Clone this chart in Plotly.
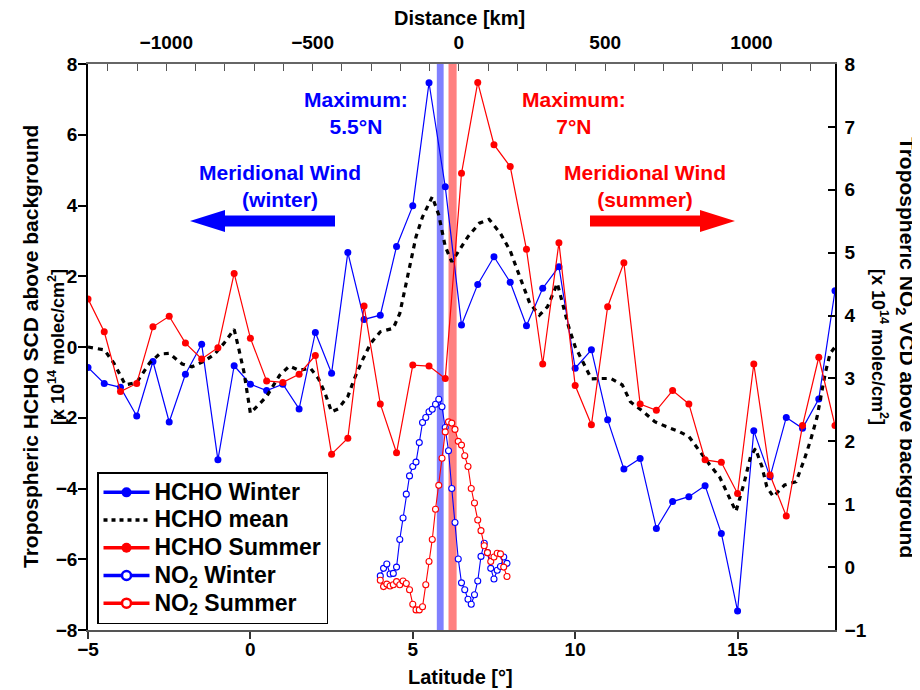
import plotly.graph_objects as go

# ---------------- data ----------------
hcho_lat = [round(-5 + 0.5 * i, 2) for i in range(47)]
hcho_winter = [-0.58, -1.03, -1.14, -1.95, -0.41, -2.12, -0.77, 0.08, -3.19, -0.53,
               -1.05, -1.23, -1.05, -1.75, 0.41, -0.74, 2.67, 0.78, 0.90, 2.84,
               3.99, 7.47, 4.53, 0.62, 1.77, 2.55, 1.83, 0.60, 1.66, 2.27,
               -0.60, -0.08, -2.06, -3.45, -3.15, -5.13, -4.37, -4.23, -3.92, -5.27,
               -7.46, -2.37, -3.67, -1.99, -2.30, -1.47, 1.59]
hcho_summer = [1.36, 0.43, -1.26, -1.03, 0.57, 0.87, 0.11, -0.34, -0.02, 2.08,
               0.25, -0.96, -1.00, -0.77, -0.24, -3.03, -2.58, 1.16, -1.61, -2.99,
               -0.51, -0.54, -0.89, 4.91, 7.48, 5.72, 5.10, 2.76, -0.48, 2.95,
               -1.09, -2.20, 1.14, 2.38, -1.61, -1.79, -1.23, -1.61, -3.19, -3.26,
               -4.14, -0.48, -3.62, -4.78, -2.22, -0.29, -2.22]

mean_lat = [-5.0, -4.5, -4.2, -3.85, -3.5, -3.1, -2.8, -2.5, -2.1, -1.8, -1.4, -1.1,
            -0.8, -0.5, -0.35, -0.2, 0.0, 0.25, 0.5, 0.9, 1.2, 1.5, 1.85, 2.1, 2.3,
            2.5, 2.7, 3.0, 3.2, 3.45, 3.7, 4.0, 4.4, 4.6, 4.75, 4.95, 5.1, 5.3, 5.6,
            5.8, 6.0, 6.2, 6.4, 6.7, 7.05, 7.35, 7.7, 8.0, 8.2, 8.4, 8.6, 8.9, 9.15,
            9.45, 9.6, 9.8, 10.0, 10.25, 10.5, 10.75, 11.1, 11.45, 11.7, 12.1, 12.45,
            12.8, 13.15, 13.5, 13.8, 14.15, 14.45, 14.7, 14.95, 15.2, 15.4, 15.55,
            15.75, 15.9, 16.1, 16.45, 16.8, 17.05, 17.25, 17.45, 17.7, 17.85, 18.0]
hcho_mean = [0.0, -0.08, -0.46, -1.07, -1.0, -0.45, -0.2, -0.18, -0.48, -0.56, -0.39, -0.2,
             0.12, 0.5, -0.08, -0.7, -1.87, -1.64, -1.4, -0.8, -0.54, -0.66, -0.6, -0.9, -1.31,
             -1.83, -1.75, -1.4, -0.9, -0.37, 0.1, 0.43, 0.53, 0.95, 1.61, 2.46, 3.12, 3.68, 4.25,
             3.73, 2.84, 2.41, 2.7, 3.12, 3.5, 3.61, 3.21, 2.72, 2.22, 1.7, 1.24, 0.9, 1.14,
             1.8, 1.3, 0.57, 0.01, -0.46, -0.9, -0.89, -0.89, -1.07, -1.55, -1.83, -2.11,
             -2.25, -2.37, -2.53, -2.91, -3.34, -3.68, -4.14, -4.65, -3.85, -3.1, -2.87,
             -3.38, -3.95, -4.23, -3.9, -3.81, -3.19, -2.63, -1.97, -0.74, -0.18, 0.0]

no2_lat = [round(4.0 + 0.1 * i, 2) for i in range(40)]
no2_winter = [-0.14, -0.02, 0.05, -0.11, -0.10, 0.00, 0.44, 0.78, 1.16, 1.45,
              1.60, 1.67, 1.98, 2.30, 2.38, 2.47, 2.51, 2.59, 2.67, 2.55,
              2.22, 1.85, 1.25, 0.71, 0.13, -0.25, -0.36, -0.51, -0.59, -0.44,
              -0.22, 0.17, 0.38, 0.23, -0.02, -0.19, -0.05, 0.01, 0.16, 0.06]
no2_summer = [-0.21, -0.31, -0.27, -0.30, -0.28, -0.23, -0.28, -0.22, -0.26, -0.36,
              -0.59, -0.68, -0.68, -0.63, -0.28, 0.09, 0.44, 0.92, 1.30, 1.73,
              2.15, 2.31, 2.29, 2.19, 2.00, 1.94, 1.77, 1.60, 1.25, 1.02,
              0.75, 0.58, 0.34, 0.23, 0.09, 0.16, 0.22, 0.21, 0.00, -0.15]

lat_range = [-5, 18]
km_per_deg = 111.0
lat_zero_km = 6.42
band_winter = [5.74, 5.95]
band_summer = [6.10, 6.35]

BLUE = "#0000ff"
RED = "#ff0000"
FONT = "Liberation Sans, Arial, sans-serif"

# page geometry: the page body has an 8px margin, so the figure starts at (8, 8)
OFF = 8
W, H = 920 - OFF, 690 - OFF
L, R, T, B = 88, 835, 64, 630          # plot area in page pixels
def X(p):
    return (p - L) / (R - L)
def Y(p):
    return (B - p) / (B - T)

fig = go.Figure()

# data traces
fig.add_trace(go.Scatter(x=hcho_lat, y=hcho_winter, mode="lines+markers", showlegend=False,
                         line=dict(color=BLUE, width=1.2), marker=dict(color=BLUE, size=7)))
fig.add_trace(go.Scatter(x=mean_lat, y=hcho_mean, mode="lines", showlegend=False,
                         line=dict(color="black", width=3.2, dash="5px,5px")))
fig.add_trace(go.Scatter(x=hcho_lat, y=hcho_summer, mode="lines+markers", showlegend=False,
                         line=dict(color=RED, width=1.2), marker=dict(color=RED, size=7)))
fig.add_trace(go.Scatter(x=no2_lat, y=no2_winter, mode="lines+markers", showlegend=False, yaxis="y2",
                         line=dict(color=BLUE, width=1.1),
                         marker=dict(color="white", size=6, line=dict(color=BLUE, width=1.1))))
fig.add_trace(go.Scatter(x=no2_lat, y=no2_summer, mode="lines+markers", showlegend=False, yaxis="y2",
                         line=dict(color=RED, width=1.1),
                         marker=dict(color="white", size=6, line=dict(color=RED, width=1.1))))

# top axis carrier (invisible)
km_range = [(v - lat_zero_km) * km_per_deg for v in lat_range]
fig.add_trace(go.Scatter(x=km_range, y=[None, None], xaxis="x2", mode="markers",
                         showlegend=False, hoverinfo="skip", marker=dict(opacity=0)))

# legend entries
def lg(s):
    return f'<span style="font-size:23px">{s}</span>'
fig.add_trace(go.Scatter(x=[None], y=[None], mode="lines+markers", name=lg("HCHO Winter"),
                         line=dict(color=BLUE, width=3.5), marker=dict(color=BLUE, size=10)))
fig.add_trace(go.Scatter(x=[None], y=[None], mode="lines", name=lg("HCHO mean"),
                         line=dict(color="black", width=3.5, dash="4px,4px")))
fig.add_trace(go.Scatter(x=[None], y=[None], mode="lines+markers", name=lg("HCHO Summer"),
                         line=dict(color=RED, width=3.5), marker=dict(color=RED, size=10)))
fig.add_trace(go.Scatter(x=[None], y=[None], mode="lines+markers", name=lg("NO<sub>2</sub> Winter"),
                         line=dict(color=BLUE, width=3.5),
                         marker=dict(color="white", size=9, line=dict(color=BLUE, width=2.5))))
fig.add_trace(go.Scatter(x=[None], y=[None], mode="lines+markers", name=lg("NO<sub>2</sub> Summer"),
                         line=dict(color=RED, width=3.5),
                         marker=dict(color="white", size=9, line=dict(color=RED, width=2.5))))

# vertical bands
fig.add_shape(type="rect", xref="x", yref="paper", x0=band_winter[0], x1=band_winter[1], y0=0, y1=1,
              fillcolor="#8080ff", line_width=0, layer="below")
fig.add_shape(type="rect", xref="x", yref="paper", x0=band_summer[0], x1=band_summer[1], y0=0, y1=1,
              fillcolor="#ff8080", line_width=0, layer="below")

# wind arrows
def arrow_path(x_tail, x_base, x_tip, yc, shaft_h=5.5, head_h=11):
    pts = [(x_tail, yc - shaft_h), (x_base, yc - shaft_h), (x_base, yc - head_h), (x_tip, yc),
           (x_base, yc + head_h), (x_base, yc + shaft_h), (x_tail, yc + shaft_h)]
    return "M " + " L ".join(f"{X(a):.5f},{Y(b):.5f}" for a, b in pts) + " Z"

fig.add_shape(type="path", xref="paper", yref="paper", path=arrow_path(335, 225, 190, 221),
              fillcolor=BLUE, line_width=0)
fig.add_shape(type="path", xref="paper", yref="paper", path=arrow_path(590, 700, 735, 221),
              fillcolor=RED, line_width=0)

def txt(x, y, s, color, size=21, angle=0):
    fig.add_annotation(x=X(x), y=Y(y), xref="paper", yref="paper", text=s, showarrow=False,
                       xanchor="center", yanchor="middle", align="center", textangle=angle,
                       font=dict(family=FONT, size=size, color=color, weight="bold"))

txt(356, 113, "Maximum:<br>5.5°N", BLUE)
txt(574, 113, "Maximum:<br>7°N", RED)
txt(280, 186, "Meridional Wind<br>(winter)", BLUE)
txt(645, 186, "Meridional Wind<br>(summer)", RED)

# axis titles
txt(30, 347, "Tropospheric HCHO SCD above background", "black", 21, -90)
txt(56, 347, "[x 10<sup>14</sup> molec/cm<sup>2</sup>]", "black", 18, -90)
txt(906, 347, "Tropospheric NO<sub>2</sub> VCD above background", "black", 21, 90)
txt(880, 347, "[x 10<sup>14</sup> molec/cm<sup>2</sup>]", "black", 18, 90)
txt(460, 677, "Latitude [°]", "black", 20)
txt(459, 18, "Distance [km]", "black", 20)

tickfont = dict(family=FONT, size=19, color="black", weight="bold")

fig.update_layout(
    width=W, height=H,
    margin=dict(l=L - OFF, r=W - (R - OFF), t=T - OFF, b=H - (B - OFF), pad=0),
    paper_bgcolor="white", plot_bgcolor="white",
    showlegend=True,
    legend=dict(x=X(97), y=Y(472), xanchor="left", yanchor="top",
                bgcolor="white", bordercolor="black", borderwidth=1.5,
                font=dict(family=FONT, size=19, color="black", weight="bold"),
                itemwidth=46, tracegroupgap=0),
    xaxis=dict(range=lat_range, dtick=5, tick0=0, showgrid=False, zeroline=False,
               showline=True, linecolor="#555555", linewidth=1.5,
               ticks="outside", ticklen=7, tickwidth=1.5, tickcolor="#333333",
               ticklabelstandoff=-6, tickfont=tickfont),
    xaxis2=dict(overlaying="x", side="top", range=km_range, dtick=500, tick0=0,
                showgrid=False, zeroline=False, showline=True, linecolor="#666666", linewidth=1.5,
                ticks="inside", ticklen=7, tickwidth=1.2, tickcolor="#555555",
                minor=dict(dtick=100, tick0=0, ticks="inside", ticklen=7, tickwidth=1.2, tickcolor="#555555"),
                ticklabelstandoff=6, tickfont=tickfont),
    yaxis=dict(range=[-8, 8], dtick=2, showgrid=False, zeroline=False,
               showline=True, linecolor="black", linewidth=1.5,
               ticks="outside", ticklen=8, tickwidth=1.5, tickcolor="black",
               ticklabelstandoff=-3, tickfont=tickfont),
    yaxis2=dict(overlaying="y", side="right", range=[-1, 8], dtick=1, showgrid=False, zeroline=False,
                showline=True, linecolor="black", linewidth=1.5,
                ticks="inside", ticklen=7, tickwidth=1.5, tickcolor="black",
                ticklabelstandoff=4, tickfont=tickfont),
)

fig.write_html("out.html")
